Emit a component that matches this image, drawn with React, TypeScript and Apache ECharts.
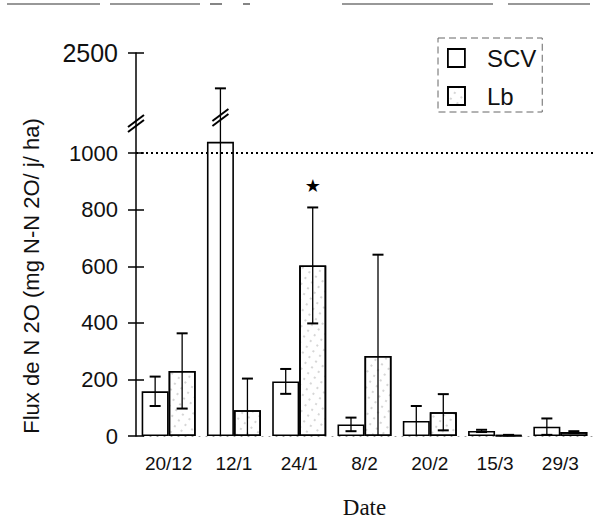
import React, { useEffect, useRef } from "react";
import * as echarts from "echarts";

// ---- data ----
const categories = ["20/12", "12/1", "24/1", "8/2", "20/2", "15/3", "29/3"];
const scvMean = [158, 1040, 193, 41, 53, 18, 33];
const scvErr = [52, 1040, 44, 24, 53, 4, 29];
const lbMean = [230, 91, 603, 283, 84, 3, 14];
const lbErr = [133, 112, 205, 358, 64, 1, 3];
const lbSignificant = [false, false, true, false, false, false, false];
const scvSignificant = [false, false, false, false, false, false, false];
const yTickValues = [0, 200, 400, 600, 800, 1000, 2500];
const referenceLine = 1000;

// ---- broken axis: linear up to LOW_MAX, gap, compressed upper segment ----
const LOW_MAX = 1100;
const GAP_END = 1680;
const AXIS_TOP = 2500;
const D_GAP = 10;
const D_TOP = 1354;
function toAxis(v: number): number {
  if (v <= LOW_MAX) return v;
  if (v <= GAP_END) return LOW_MAX + ((v - LOW_MAX) / (GAP_END - LOW_MAX)) * D_GAP;
  return LOW_MAX + D_GAP + ((v - GAP_END) * (D_TOP - LOW_MAX - D_GAP)) / (AXIS_TOP - GAP_END);
}
const GAP_MID = LOW_MAX + D_GAP / 2;
const tickDisplay = yTickValues.map(toAxis);

const BAR_W = 27;
const CAP = 5.5;
const FONT = '"Liberation Sans", Arial, sans-serif';

function breakMark(cx: number, cy: number) {
  return [-2.5, 2.5].map((d) => ({
    type: "line",
    shape: { x1: cx - 8, y1: cy + d + 6, x2: cx + 8, y2: cy + d - 6 },
    style: { stroke: "#000", lineWidth: 2 },
  }));
}

function errSeries(means: number[], errs: number[], signif: boolean[], side: number) {
  return {
    type: "custom",
    silent: true,
    z: 5,
    encode: { x: 0, y: [1, 2] },
    data: means.map((m, i) => [
      i,
      toAxis(Math.max(0, m - errs[i])),
      toAxis(m + errs[i]),
      signif[i] ? 1 : 0,
      m + errs[i] > GAP_END ? 1 : 0,
    ]),
    renderItem: (params: any, api: any) => {
      const i = api.value(0);
      const lo = api.value(1);
      const hi = api.value(2);
      const pLo = api.coord([i, lo]);
      const pHi = api.coord([i, hi]);
      const x = pLo[0] + (side * BAR_W) / 2;
      const children: any[] = [
        { type: "line", shape: { x1: x, y1: pLo[1], x2: x, y2: pHi[1] }, style: { stroke: "#000", lineWidth: 1.3 } },
        { type: "line", shape: { x1: x - CAP, y1: pHi[1], x2: x + CAP, y2: pHi[1] }, style: { stroke: "#000", lineWidth: 2 } },
      ];
      if (lo > 0) {
        children.push({ type: "line", shape: { x1: x - CAP, y1: pLo[1], x2: x + CAP, y2: pLo[1] }, style: { stroke: "#000", lineWidth: 2 } });
      }
      if (api.value(3)) {
        children.push({
          type: "text",
          x,
          y: pHi[1] - 22,
          style: { text: "★", fontSize: 18, fontFamily: "DejaVu Sans", align: "center", verticalAlign: "middle", fill: "#000" },
        });
      }
      if (api.value(4)) {
        const yb = api.coord([i, GAP_MID])[1] - 6;
        children.push(...breakMark(x, yb));
      }
      return { type: "group", children };
    },
  };
}

export default function App() {
  const ref = useRef<HTMLDivElement>(null);
  useEffect(() => {
    if (!ref.current) return;
    const chart = echarts.init(ref.current, null, { renderer: "svg" });
    const option: any = {
      animation: false,
      backgroundColor: "#fff",
      textStyle: { fontFamily: FONT },
      grid: { left: 136, right: 2, top: 53, bottom: 83, containLabel: false },
      legend: {
        data: [
          { name: "SCV", icon: "rect" },
          { name: "Lb", icon: "rect" },
        ],
        orient: "vertical",
        left: 438,
        top: 38,
        itemWidth: 17,
        itemHeight: 18,
        itemGap: 14,
        padding: [8, 6, 4, 9],
        borderColor: "#666",
        borderWidth: 1,
        borderType: [7, 4],
        itemStyle: { borderColor: "#000", borderWidth: 1.8 },
        textStyle: { fontSize: 24, fontFamily: FONT, color: "#111", padding: [0, 0, 0, 17], lineHeight: 24 },
      },
      xAxis: {
        type: "category",
        data: categories,
        axisLine: { show: true, lineStyle: { color: "#999", width: 1, type: [1, 6] } },
        axisTick: { show: false },
        axisLabel: { fontSize: 19, color: "#111", margin: 18 },
        name: "Date",
        nameLocation: "middle",
        nameGap: 60,
        nameTextStyle: { fontSize: 23, fontFamily: '"Liberation Serif", "Times New Roman", serif', color: "#111" },
      },
      yAxis: [
        {
          type: "value",
          min: 0,
          max: D_TOP,
          splitLine: { show: false },
          axisLine: { show: true, lineStyle: { color: "#000", width: 1.5 } },
          axisTick: { show: true, length: 8, customValues: tickDisplay, lineStyle: { color: "#000", width: 1.5 } },
          axisLabel: {
            customValues: tickDisplay,
            margin: 18,
            fontSize: 22,
            color: "#111",
            formatter: (val: number) => {
              let best = 0;
              tickDisplay.forEach((d, k) => {
                if (Math.abs(d - val) < Math.abs(tickDisplay[best] - val)) best = k;
              });
              const v = yTickValues[best];
              return v > LOW_MAX ? "{big|" + v + "}" : String(v);
            },
            rich: { big: { fontSize: 25, fontFamily: FONT, color: "#111" } },
          },
        },
        {
          type: "value",
          min: 0,
          max: D_TOP,
          position: "left",
          splitLine: { show: false },
          axisLine: { show: false },
          axisTick: { show: true, inside: true, length: 8, customValues: tickDisplay, lineStyle: { color: "#000", width: 1.5 } },
          axisLabel: { show: false, customValues: tickDisplay },
        },
      ],
      series: [
        {
          name: "SCV",
          type: "bar",
          barWidth: BAR_W,
          barGap: "0%",
          data: scvMean.map(toAxis),
          itemStyle: { color: "#fff", borderColor: "#000", borderWidth: 1.6 },
          markLine: {
            silent: true,
            symbol: ["none", "none"],
            label: { show: false },
            lineStyle: { color: "#000", width: 2, type: [2, 3] },
            data: [{ yAxis: toAxis(referenceLine) }],
          },
        },
        {
          name: "Lb",
          type: "bar",
          barWidth: BAR_W,
          barGap: "0%",
          data: lbMean.map(toAxis),
          itemStyle: {
            color: "#fff",
            borderColor: "#000",
            borderWidth: 1.6,
            decal: {
              symbol: "rect",
              symbolSize: 1,
              color: "rgba(0,0,0,0.16)",
              dashArrayX: [1.5, 6],
              dashArrayY: [1.5, 5],
              rotation: 0.6,
            },
          },
        },
        errSeries(scvMean, scvErr, scvSignificant, -1),
        errSeries(lbMean, lbErr, lbSignificant, 1),
        {
          type: "custom",
          silent: true,
          z: 6,
          encode: { x: 0, y: 1 },
          data: [[0, GAP_MID]],
          renderItem: (params: any, api: any) => {
            const y = api.coord([0, GAP_MID])[1];
            return { type: "group", children: breakMark(params.coordSys.x, y) };
          },
        },
      ],
      graphic: [
        {
          type: "text",
          x: 31,
          y: 276,
          rotation: Math.PI / 2,
          style: {
            text: "Flux de N 2O (mg N-N 2O/ j/ ha)",
            fontSize: 22,
            fontFamily: FONT,
            align: "center",
            verticalAlign: "middle",
            fill: "#111",
          },
        },
        ...[
          [7, 100],
          [110, 200],
          [210, 222],
          [243, 250],
          [342, 493],
          [508, 590],
        ].map(([a, b]) => ({
          type: "line",
          shape: { x1: a, y1: 4, x2: b, y2: 4 },
          style: { stroke: "#333", lineWidth: 1.2 },
        })),
      ],
    };
    chart.setOption(option);
    return () => chart.dispose();
  }, []);
  return <div ref={ref} style={{ position: "fixed", left: 0, top: 0, width: 595, height: 524 }} />;
}
